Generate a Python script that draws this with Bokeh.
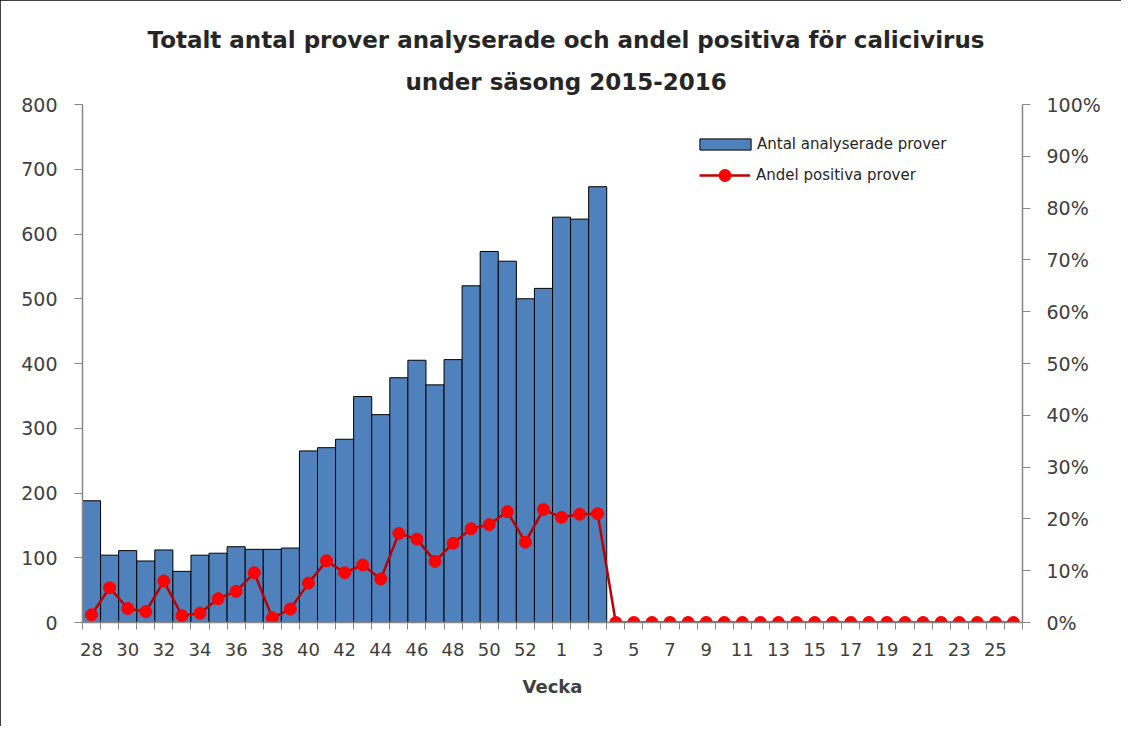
import numpy as np
from bokeh.plotting import figure
from bokeh.models import (ColumnDataSource, Range1d, LinearAxis, FixedTicker,
                          NumeralTickFormatter, Legend, LegendItem, Title)
from bokeh.embed import file_html
from bokeh.resources import INLINE

weeks = [str(w) for w in range(28, 54)] + [str(w) for w in range(1, 27)]
antal = [188, 104, 111, 95, 112, 79, 104, 107, 117, 113, 113, 115,
         265, 270, 283, 349, 321, 378, 405, 367, 406, 520, 573, 558, 500, 516,
         626, 623, 673] + [float("nan")] * 23
andel = [0.015, 0.067, 0.027, 0.021, 0.080, 0.013, 0.018, 0.046, 0.060, 0.096,
         0.009, 0.026, 0.076, 0.119, 0.096, 0.111, 0.084, 0.172, 0.161, 0.118,
         0.153, 0.181, 0.189, 0.214, 0.155, 0.218, 0.203, 0.209, 0.210] + [0.0] * 23
left_ticks = list(range(0, 801, 100))
right_ticks = [i / 10 for i in range(0, 11)]
title_lines = ["Totalt antal prover analyserade och andel positiva för calicivirus",
               "under säsong 2015-2016"]

FONT = "DejaVu Sans"
TXT = "#404040"
AX = "#868686"

x = np.arange(len(weeks))
src = ColumnDataSource(dict(x=x, antal=antal, andel=andel, week=weeks))

W, H = 1121, 726
p = figure(width=W, height=H, output_backend="svg", toolbar_location=None,
           x_range=Range1d(-0.5, len(weeks) - 0.5), y_range=Range1d(0, 800),
           min_border_left=82, min_border_right=99, min_border_top=104,
           min_border_bottom=104)
p.extra_y_ranges = {"pct": Range1d(0, 1)}
p.grid.visible = False
p.outline_line_color = None
p.styles = {"outline": "1.5px solid black", "outline-offset": "-1px"}

bars = p.vbar(x="x", top="antal", width=1.0, source=src, fill_color="#4F81BD",
              line_color="black", line_width=1)
ln = p.line(x="x", y="andel", source=src, y_range_name="pct", line_color="#C00000",
            line_width=2.5)
pts = p.scatter(x="x", y="andel", source=src, y_range_name="pct", size=12,
                fill_color="#FF0000", line_color="#FF0000")

# x axis
xa = p.xaxis[0]
label_idx = list(range(0, len(weeks), 2))
xa.ticker = FixedTicker(ticks=label_idx,
                        minor_ticks=[i - 0.5 for i in range(len(weeks) + 1)])
xa.major_label_overrides = {i: weeks[i] for i in label_idx}
xa.major_tick_out = 0
xa.major_tick_in = 0
xa.minor_tick_out = 7
xa.minor_tick_in = 0
xa.minor_tick_line_color = AX
xa.axis_line_color = AX
xa.axis_line_width = 1.5
xa.major_label_standoff = 13
xa.major_label_text_font = FONT
xa.major_label_text_font_size = "18px"
xa.major_label_text_color = TXT
xa.axis_label = "Vecka"
xa.axis_label_text_font = FONT
xa.axis_label_text_font_style = "bold"
xa.axis_label_text_font_size = "18px"
xa.axis_label_text_color = TXT
xa.axis_label_standoff = 17

ya = p.yaxis[0]
ya.ticker = FixedTicker(ticks=left_ticks)
ya.minor_tick_line_color = None
ya.major_tick_out = 8
ya.major_tick_in = 0
ya.major_tick_line_color = AX
ya.axis_line_color = AX
ya.axis_line_width = 1.5
ya.major_label_standoff = 17
ya.major_label_text_font = FONT
ya.major_label_text_font_size = "19px"
ya.major_label_text_color = TXT

ra = LinearAxis(y_range_name="pct", ticker=FixedTicker(ticks=right_ticks),
                formatter=NumeralTickFormatter(format="0%"))
ra.minor_tick_line_color = None
ra.major_tick_out = 8
ra.major_tick_in = 0
ra.major_tick_line_color = AX
ra.axis_line_color = AX
ra.axis_line_width = 1.5
ra.major_label_standoff = 16
ra.major_label_text_font = FONT
ra.major_label_text_font_size = "19px"
ra.major_label_text_color = TXT
p.add_layout(ra, "right")

common = dict(padding=0, margin=0, border_line_color=None, background_fill_alpha=0,
              label_text_font=FONT, label_text_font_size="15px",
              label_text_color="#262626", label_height=20)
leg1 = Legend(items=[LegendItem(label="Antal analyserade prover", renderers=[bars])],
              location=(611, 468), glyph_width=64, glyph_height=14, label_standoff=0,
              **common)
leg2 = Legend(items=[LegendItem(label="Andel positiva prover", renderers=[ln, pts])],
              location=(617, 432), glyph_width=51, glyph_height=30, label_standoff=6,
              **common)
p.add_layout(leg1, "center")
p.add_layout(leg2, "center")

# title: first added sits nearest to the frame
for t, so, off in ((title_lines[1], 19, 323), (title_lines[0], 9, 65)):
    p.add_layout(Title(text=t, align="left", standoff=so, offset=off, text_font=FONT,
                       text_font_style="bold", text_font_size="23px",
                       text_color="#262626"), "above")

open("out.html", "w").write(file_html(p, INLINE))
